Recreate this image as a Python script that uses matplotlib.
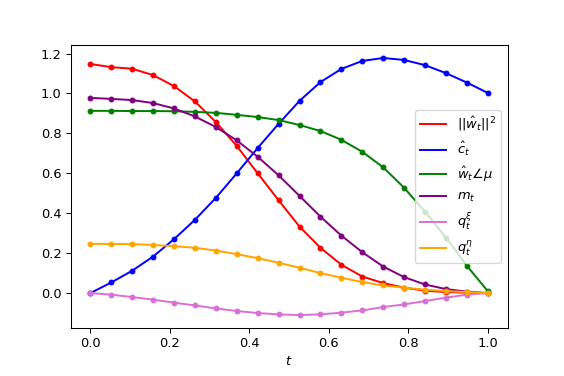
import numpy as np
import matplotlib
matplotlib.use('Agg')
import matplotlib.pyplot as plt

# 20 samples on t in [0, 1]
t = np.linspace(0, 1, 20)

w_norm = [1.148, 1.132, 1.124, 1.092, 1.037, 0.960, 0.857, 0.737, 0.600, 0.465,
          0.333, 0.227, 0.142, 0.083, 0.050, 0.027, 0.012, 0.005, 0.002, 0.0]
c_hat = [0.0, 0.053, 0.112, 0.183, 0.270, 0.367, 0.477, 0.600, 0.727, 0.848,
         0.963, 1.057, 1.123, 1.163, 1.178, 1.168, 1.142, 1.102, 1.055, 1.003]
w_angle = [0.913, 0.913, 0.912, 0.912, 0.911, 0.908, 0.903, 0.893, 0.882, 0.867,
           0.842, 0.812, 0.768, 0.708, 0.630, 0.528, 0.408, 0.278, 0.137, 0.010]
m_t = [0.978, 0.973, 0.967, 0.952, 0.925, 0.885, 0.832, 0.765, 0.683, 0.590,
       0.487, 0.383, 0.288, 0.205, 0.133, 0.080, 0.043, 0.020, 0.007, 0.0]
q_xi = [0.0, -0.008, -0.020, -0.033, -0.048, -0.062, -0.077, -0.090, -0.100, -0.107,
        -0.110, -0.107, -0.098, -0.087, -0.070, -0.057, -0.040, -0.023, -0.008, 0.0]
q_eta = [0.247, 0.246, 0.245, 0.241, 0.235, 0.227, 0.213, 0.195, 0.175, 0.152,
         0.127, 0.100, 0.077, 0.055, 0.038, 0.027, 0.017, 0.010, 0.005, 0.0]

series = [(w_norm, 'red', r'$||\hat{w}_t||^2$'),
          (c_hat, 'blue', r'$\hat{c}_t$'),
          (w_angle, 'green', r'$\hat{w}_t\angle\mu$'),
          (m_t, 'purple', r'$m_t$'),
          (q_xi, 'orchid', r'$q_t^\xi$'),
          (q_eta, 'orange', r'$q_t^\eta$')]

fig = plt.figure(figsize=(6, 4), dpi=94)
ax = fig.add_subplot(111)
fig.subplots_adjust(left=0.125, right=0.9, top=0.88, bottom=0.128)

for y, col, lab in series:
    ax.plot(t, y, color=col, label=lab, lw=1.5)
    ax.plot(t, y, 'o', color=col, ms=3.5)

ax.set_xlabel('$t$')
ax.legend(loc='center right')

plt.savefig('out.png', dpi=94)
